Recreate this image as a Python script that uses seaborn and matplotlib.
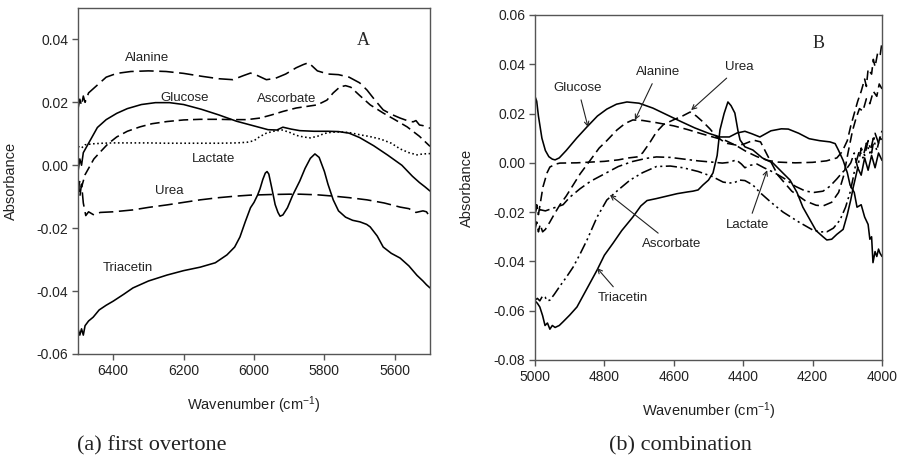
import matplotlib
matplotlib.use("Agg")
import matplotlib.pyplot as plt
import seaborn as sns
import pandas as pd

# ---------------- Panel A : first overtone ----------------
a_alanine_x = [6500, 6495, 6490, 6485, 6480, 6470, 6460, 6440, 6420, 6390, 6350, 6300, 6250, 6200, 6150, 6100,
               6060, 6030, 6010, 5990, 5965, 5940, 5910, 5880, 5860, 5845, 5820, 5790, 5760, 5730, 5700, 5679,
               5655, 5633, 5610, 5585, 5560, 5548, 5540, 5530, 5520, 5510, 5500]
a_alanine_y = [0.018, 0.021, 0.019, 0.022, 0.020, 0.023, 0.024, 0.026, 0.028, 0.0292, 0.0298, 0.0300, 0.0298, 0.0292,
               0.0283, 0.0275, 0.0272, 0.0285, 0.0293, 0.0285, 0.0272, 0.0276, 0.0290, 0.0310, 0.0320, 0.0326,
               0.0300, 0.0290, 0.0288, 0.0280, 0.0262, 0.0239, 0.0205, 0.0176, 0.0162, 0.0150, 0.0140, 0.0138,
               0.0142, 0.0128, 0.0126, 0.0120, 0.0118]

a_glucose_x = [6500, 6495, 6490, 6485, 6480, 6470, 6460, 6445, 6420, 6390, 6360, 6320, 6280, 6240, 6200, 6150, 6100,
               6050, 6000, 5960, 5935, 5918, 5895, 5870, 5830, 5790, 5760, 5730, 5700, 5660, 5620, 5580, 5550,
               5530, 5515, 5500]
a_glucose_y = [-0.002, 0.002, 0.000, 0.004, 0.005, 0.007, 0.009, 0.012, 0.0145, 0.0165, 0.0180, 0.0193, 0.0199,
               0.0199, 0.0193, 0.0178, 0.0160, 0.0140, 0.0125, 0.0113, 0.0112, 0.0121, 0.0115, 0.0110, 0.0108,
               0.0108, 0.0107, 0.0102, 0.0088, 0.0062, 0.0032, 0.0000, -0.0035, -0.0055, -0.0068, -0.0082]

a_ascorbate_x = [6500, 6495, 6490, 6480, 6470, 6455, 6437, 6415, 6390, 6360, 6324, 6290, 6247, 6200, 6153, 6100,
                 6060, 6020, 5983, 5950, 5918, 5880, 5850, 5820, 5793, 5775, 5756, 5740, 5725, 5700, 5670, 5633,
                 5600, 5565, 5530, 5500]
a_ascorbate_y = [-0.008, -0.005, -0.007, -0.003, -0.001, 0.002, 0.0042, 0.0068, 0.0090, 0.0108, 0.0122, 0.0132,
                 0.0139, 0.0144, 0.0146, 0.0146, 0.0145, 0.0145, 0.0150, 0.0160, 0.0171, 0.0182, 0.0187, 0.0192,
                 0.0207, 0.0230, 0.0249, 0.0253, 0.0248, 0.0222, 0.0192, 0.0166, 0.0145, 0.0122, 0.0092, 0.0060]

a_lactate_x = [6500, 6490, 6480, 6460, 6430, 6400, 6350, 6300, 6250, 6200, 6150, 6100, 6050, 6020, 6000, 5985,
               5965, 5945, 5920, 5900, 5880, 5860, 5840, 5820, 5800, 5780, 5755, 5730, 5700, 5670, 5640, 5610,
               5585, 5560, 5537, 5520, 5500]
a_lactate_y = [0.0060, 0.0055, 0.0065, 0.0068, 0.0070, 0.0071, 0.0071, 0.0071, 0.0070, 0.0070, 0.0070, 0.0070,
               0.0071, 0.0073, 0.0078, 0.0090, 0.0102, 0.0108, 0.0112, 0.0105, 0.0095, 0.0090, 0.0087, 0.0092,
               0.0101, 0.0105, 0.0106, 0.0104, 0.0097, 0.0091, 0.0083, 0.0070, 0.0052, 0.0040, 0.0033, 0.0036,
               0.0037]

a_urea_x = [6500, 6495, 6490, 6485, 6478, 6470, 6455, 6437, 6400, 6344, 6300, 6247, 6200, 6153, 6100, 6050, 6011,
            5950, 5900, 5869, 5820, 5776, 5730, 5679, 5630, 5585, 5560, 5540, 5520, 5510, 5500]
a_urea_y = [-0.004, -0.010, -0.006, -0.012, -0.016, -0.0148, -0.0158, -0.0150, -0.0148, -0.0142, -0.0134,
            -0.0126, -0.0118, -0.0110, -0.0103, -0.0098, -0.0095, -0.0093, -0.0092, -0.0092, -0.0094, -0.0098,
            -0.0103, -0.0110, -0.0120, -0.0133, -0.0138, -0.0150, -0.0145, -0.0148, -0.0165]

a_triacetin_x = [6500, 6495, 6490, 6485, 6480, 6470, 6457, 6440, 6420, 6400, 6370, 6344, 6300, 6247, 6200, 6153,
                 6110, 6077, 6055, 6040, 6025, 6010, 6000, 5990, 5983, 5975, 5968, 5963, 5958, 5950, 5940, 5932,
                 5926, 5918, 5905, 5890, 5870, 5855, 5840, 5827, 5815, 5800, 5790, 5775, 5760, 5740, 5720, 5699,
                 5680, 5670, 5650, 5633, 5610, 5585, 5560, 5537, 5520, 5510, 5500]
a_triacetin_y = [-0.052, -0.054, -0.052, -0.054, -0.051, -0.0495, -0.0483, -0.0460, -0.0445, -0.0432, -0.0410,
                 -0.0390, -0.0368, -0.0349, -0.0335, -0.0324, -0.0310, -0.0285, -0.0260, -0.0228, -0.0180,
                 -0.0135, -0.0118, -0.0095, -0.0075, -0.0045, -0.0025, -0.0020, -0.0028, -0.0070, -0.0125,
                 -0.0150, -0.0162, -0.0158, -0.0135, -0.0095, -0.0050, -0.0010, 0.0022, 0.0036, 0.0025, -0.0020,
                 -0.0060, -0.0110, -0.0145, -0.0165, -0.0175, -0.0180, -0.0188, -0.0196, -0.0225, -0.0260,
                 -0.0280, -0.0295, -0.0320, -0.0350, -0.0368, -0.0380, -0.0390]

# ---------------- Panel B : combination ----------------
b_glucose_x = [5000, 4995, 4990, 4980, 4970, 4960, 4950, 4942, 4930, 4910, 4880, 4850, 4820, 4793, 4765, 4735,
               4700, 4660, 4620, 4580, 4540, 4500, 4467, 4440, 4418, 4395, 4375, 4352, 4320, 4290, 4270, 4240,
               4210, 4180, 4150, 4135, 4125, 4112, 4100, 4092, 4080, 4072, 4060, 4050, 4040, 4035, 4030, 4026,
               4020, 4015, 4010, 4006, 4000]
b_glucose_y = [0.027, 0.025, 0.019, 0.010, 0.005, 0.0025, 0.0015, 0.0012, 0.0020, 0.0050, 0.0100, 0.0146, 0.0190,
               0.0218, 0.0238, 0.0247, 0.0242, 0.0222, 0.0195, 0.0168, 0.0142, 0.0120, 0.0105, 0.0105, 0.0121,
               0.0128, 0.0118, 0.0105, 0.0130, 0.0138, 0.0137, 0.0120, 0.0098, 0.0090, 0.0085, 0.0078, 0.0050,
               0.0010, -0.0040, -0.0090, -0.0120, -0.0180, -0.0170, -0.0220, -0.0250, -0.0310, -0.0300,
               -0.0405, -0.0360, -0.0380, -0.0350, -0.0366, -0.0380]

b_triacetin_x = [5000, 4993, 4986, 4978, 4971, 4964, 4957, 4950, 4942, 4930, 4919, 4900, 4879, 4850, 4821, 4800,
                 4775, 4750, 4718, 4695, 4677, 4650, 4620, 4590, 4560, 4545, 4530, 4516, 4500, 4487, 4475, 4467,
                 4455, 4444, 4435, 4424, 4415, 4409, 4395, 4372, 4345, 4314, 4290, 4265, 4245, 4228, 4210, 4190,
                 4170, 4159, 4145, 4130, 4112, 4100, 4090, 4083, 4078, 4070, 4060, 4050, 4040, 4030, 4020, 4010,
                 4000]
b_triacetin_y = [-0.056, -0.057, -0.0585, -0.062, -0.066, -0.065, -0.0675, -0.066, -0.0668, -0.066, -0.0645,
                 -0.0618, -0.0585, -0.0510, -0.0435, -0.0375, -0.0326, -0.0275, -0.0220, -0.0175, -0.0153,
                 -0.0145, -0.0135, -0.0125, -0.0118, -0.0115, -0.0110, -0.0090, -0.0070, -0.0041, 0.0030,
                 0.0133, 0.0200, 0.0247, 0.0232, 0.0202, 0.0130, 0.0093, 0.0065, 0.0052, 0.0020, -0.0001,
                 -0.0035, -0.0070, -0.0120, -0.0180, -0.0225, -0.0275, -0.0300, -0.0313, -0.0310, -0.0290,
                 -0.0270, -0.0210, -0.0150, -0.0100, -0.0070, -0.0020, -0.0050, 0.0020, -0.0030, 0.0030,
                 -0.0020, 0.0040, 0.0010]

b_alanine_x = [5000, 4995, 4990, 4985, 4978, 4970, 4957, 4945, 4928, 4910, 4890, 4870, 4841, 4815, 4793, 4764,
               4740, 4718, 4690, 4650, 4600, 4560, 4520, 4480, 4450, 4420, 4390, 4360, 4330, 4300, 4250, 4200,
               4160, 4130, 4115, 4100, 4090, 4080, 4070, 4060, 4050, 4045, 4040, 4030, 4025, 4020, 4012, 4005,
               4000]
b_alanine_y = [-0.027, -0.024, -0.028, -0.025, -0.028, -0.027, -0.024, -0.021, -0.017, -0.0135, -0.009, -0.0045,
               0.001, 0.006, 0.009, 0.0133, 0.016, 0.0174, 0.0172, 0.0163, 0.0150, 0.0135, 0.0118, 0.0102, 0.0090,
               0.0070, 0.0045, 0.0025, 0.0010, 0.0003, 0.0000, 0.0002, 0.0008, 0.0020, 0.0045, 0.0090, 0.0150,
               0.0200, 0.0250, 0.0290, 0.0340, 0.0310, 0.0380, 0.0360, 0.0420, 0.0390, 0.0450, 0.0440, 0.0490]

b_urea_x = [5000, 4995, 4990, 4983, 4977, 4965, 4957, 4940, 4928, 4880, 4840, 4800, 4760, 4730, 4706, 4690, 4670,
            4650, 4630, 4600, 4575, 4553, 4535, 4515, 4496, 4476, 4450, 4420, 4400, 4370, 4350, 4330, 4300, 4260,
            4220, 4190, 4170, 4145, 4125, 4110, 4098, 4085, 4075, 4065, 4055, 4045, 4035, 4025, 4015, 4008, 4000]
b_urea_y = [-0.021, -0.018, -0.021, -0.015, -0.0098, -0.004, -0.0017, -0.0005, -0.0001, 0.0000, 0.0003, 0.0006,
            0.0012, 0.0020, 0.0024, 0.0040, 0.0080, 0.0125, 0.0155, 0.0175, 0.0190, 0.0206, 0.0190, 0.0165,
            0.0138, 0.0105, 0.0080, 0.0072, 0.0075, 0.0092, 0.0085, 0.0030, -0.0050, -0.0115, -0.0155, -0.0172,
            -0.0175, -0.0160, -0.0120, -0.0050, 0.0040, 0.0130, 0.0180, 0.0220, 0.0210, 0.0260, 0.0240, 0.0290,
            0.0270, 0.0320, 0.0300]

b_lactate_x = [5000, 4995, 4990, 4986, 4970, 4950, 4919, 4900, 4870, 4840, 4800, 4760, 4720, 4680, 4650, 4610,
               4570, 4530, 4490, 4460, 4440, 4420, 4405, 4395, 4380, 4360, 4340, 4310, 4280, 4250, 4220, 4195,
               4170, 4150, 4130, 4115, 4100, 4090, 4080, 4070, 4060, 4050, 4040, 4030, 4020, 4010, 4000]
b_lactate_y = [-0.020, -0.017, -0.021, -0.019, -0.0195, -0.0185, -0.017, -0.014, -0.0105, -0.0075, -0.0045,
               -0.0015, 0.0005, 0.0018, 0.0024, 0.0022, 0.0015, 0.0008, 0.0003, -0.0001, 0.0002, 0.0012, -0.0005,
               -0.0020, -0.0010, -0.0005, -0.0020, -0.0040, -0.0065, -0.0095, -0.0115, -0.0120, -0.0115,
               -0.0095, -0.0065, -0.0040, -0.0020, 0.0000, 0.0040, -0.0020, 0.0060, 0.0030, 0.0090, 0.0040,
               0.0120, 0.0080, 0.0130]

b_ascorbate_x = [5000, 4993, 4986, 4978, 4971, 4964, 4957, 4945, 4928, 4910, 4890, 4870, 4850, 4821, 4793, 4760,
                 4726, 4690, 4650, 4610, 4573, 4530, 4490, 4458, 4440, 4425, 4410, 4395, 4372, 4352, 4320, 4285,
                 4240, 4199, 4175, 4159, 4140, 4121, 4105, 4092, 4083, 4075, 4065, 4055, 4045, 4035, 4025, 4015,
                 4005, 4000]
b_ascorbate_y = [-0.0557, -0.0550, -0.0560, -0.0540, -0.0545, -0.0560, -0.0557, -0.0535, -0.0500, -0.0465,
                 -0.0423, -0.0370, -0.0313, -0.0220, -0.0151, -0.0110, -0.0070, -0.0040, -0.0015, -0.0013,
                 -0.0020, -0.0035, -0.0055, -0.0078, -0.0082, -0.0080, -0.0070, -0.0072, -0.0090, -0.0120,
                 -0.0160, -0.0200, -0.0240, -0.0273, -0.0280, -0.0280, -0.0265, -0.0232, -0.0180, -0.0120,
                 -0.0060, 0.0000, 0.0050, 0.0020, 0.0080, 0.0040, 0.0100, 0.0050, 0.0110, 0.0080]

a_ticks_x = [6400, 6200, 6000, 5800, 5600]
a_ticks_y = [-0.06, -0.04, -0.02, 0.00, 0.02, 0.04]
b_ticks_x = [5000, 4800, 4600, 4400, 4200, 4000]
b_ticks_y = [-0.08, -0.06, -0.04, -0.02, 0.00, 0.02, 0.04, 0.06]

# ---------------- style ----------------
sns.set_theme(style="ticks")
plt.rcParams["font.family"] = ["Liberation Sans", "DejaVu Sans"]
plt.rcParams["axes.unicode_minus"] = False
plt.rcParams["mathtext.fontset"] = "custom"
plt.rcParams["mathtext.rm"] = "Liberation Sans"
plt.rcParams["mathtext.it"] = "Liberation Sans:italic"
plt.rcParams["mathtext.bf"] = "Liberation Sans:bold"

SOLID = "-"
LONGDASH = (0, (9, 3.5))
MEDDASH = (0, (6, 3))
DOTTED = (0, (1, 1.6))
DASHDOT = (0, (7, 2.5, 1.5, 2.5))
DASHDOTDOT = (0, (7, 2.2, 1.3, 2.2, 1.3, 2.2))

fig = plt.figure(figsize=(9, 4.68), dpi=100)
axA = fig.add_axes([0.0867, 0.2436, 0.3911, 0.7394])
axB = fig.add_axes([0.5944, 0.2308, 0.3856, 0.7372])

series_A = [
    ("Alanine", a_alanine_x, a_alanine_y, LONGDASH),
    ("Glucose", a_glucose_x, a_glucose_y, SOLID),
    ("Ascorbate", a_ascorbate_x, a_ascorbate_y, MEDDASH),
    ("Lactate", a_lactate_x, a_lactate_y, DOTTED),
    ("Urea", a_urea_x, a_urea_y, LONGDASH),
    ("Triacetin", a_triacetin_x, a_triacetin_y, SOLID),
]
series_B = [
    ("Glucose", b_glucose_x, b_glucose_y, SOLID),
    ("Triacetin", b_triacetin_x, b_triacetin_y, SOLID),
    ("Alanine", b_alanine_x, b_alanine_y, MEDDASH),
    ("Urea", b_urea_x, b_urea_y, MEDDASH),
    ("Lactate", b_lactate_x, b_lactate_y, DASHDOT),
    ("Ascorbate", b_ascorbate_x, b_ascorbate_y, DASHDOTDOT),
]

for ax, series in ((axA, series_A), (axB, series_B)):
    for name, xs, ys, ls in series:
        df = pd.DataFrame({"x": xs, "y": ys})
        sns.lineplot(data=df, x="x", y="y", ax=ax, sort=False, estimator=None,
                     color="black", linewidth=1.15, linestyle=ls)

spine_col = "#555555"
for ax in (axA, axB):
    for s in ax.spines.values():
        s.set_visible(True)
        s.set_color(spine_col)
        s.set_linewidth(1.0)
    ax.tick_params(axis="both", direction="out", length=4, width=1.0, color=spine_col,
                   labelsize=10, labelcolor="#222222", top=False, right=False, pad=3)
    ax.set_ylabel("Absorbance", fontsize=10.5, color="#222222")
    ax.set_xlabel("Wavenumber (cm$^{-1}$)", fontsize=10.5, color="#222222", labelpad=12)
    ax.grid(False)

axA.set_xlim(6500, 5500)
axA.set_ylim(-0.06, 0.05)
axA.set_xticks(a_ticks_x)
axA.set_yticks(a_ticks_y)
axA.set_yticklabels([f"{v:.2f}" for v in a_ticks_y])
axA.yaxis.set_label_coords(-0.17, 0.5)

axB.set_xlim(5000, 4000)
axB.set_ylim(-0.08, 0.06)
axB.set_xticks(b_ticks_x)
axB.set_yticks(b_ticks_y)
axB.set_yticklabels([f"{v:.2f}" for v in b_ticks_y])
axB.yaxis.set_label_coords(-0.175, 0.5)

lab = dict(fontsize=9.5, color="#222222", ha="center", va="center")
# Panel A labels
axA.text(6304, 0.0341, "Alanine", **lab)
axA.text(6196, 0.0214, "Glucose", **lab)
axA.text(5906, 0.0211, "Ascorbate", **lab)
axA.text(6116, 0.0020, "Lactate", **lab)
axA.text(6241, -0.0082, "Urea", **lab)
axA.text(6358, -0.0327, "Triacetin", **lab)
axA.text(5690, 0.0398, "A", fontsize=13, family="Liberation Serif", ha="center", va="center")

# Panel B labels with arrows
arr = dict(arrowstyle="->", color="#222222", lw=0.8, shrinkA=2, shrinkB=0, mutation_scale=8)
axB.annotate("Glucose", xy=(4847, 0.0145), xytext=(4876, 0.0304), arrowprops=arr, **lab)
axB.annotate("Alanine", xy=(4712, 0.0174), xytext=(4646, 0.0369), arrowprops=arr, **lab)
axB.annotate("Urea", xy=(4550, 0.0214), xytext=(4412, 0.0389), arrowprops=arr, **lab)
axB.annotate("Lactate", xy=(4331, -0.003), xytext=(4386, -0.0253), arrowprops=arr, **lab)
axB.annotate("Ascorbate", xy=(4784, -0.013), xytext=(4605, -0.033), arrowprops=arr, **lab)
axB.annotate("Triacetin", xy=(4821, -0.0427), xytext=(4746, -0.0549), arrowprops=arr, **lab)
axB.text(4184, 0.0486, "B", fontsize=13, family="Liberation Serif", ha="center", va="center")

# captions
fig.text(152 / 900, 1 - 446 / 468, "(a) first overtone", fontsize=16, family="Liberation Serif",
         ha="center", va="center", color="#222222")
fig.text(680 / 900, 1 - 446 / 468, "(b) combination", fontsize=16, family="Liberation Serif",
         ha="center", va="center", color="#222222")

fig.savefig("out.png", dpi=100)
